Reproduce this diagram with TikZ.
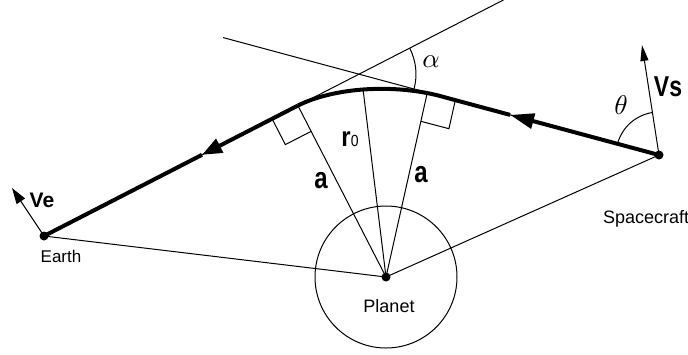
\documentclass[tikz,border=0pt]{standalone}
\usepackage{fontspec}
\setmainfont{Liberation Sans}
\usetikzlibrary{arrows.meta,calc,angles}
\begin{document}
\begin{tikzpicture}[x=1pt,y=-1pt,
  thinline/.style={line width=1pt},
  traj/.style={line width=4pt, line join=round},
  dot/.style={circle, fill=black, inner sep=0pt, minimum size=9pt},
  small/.style={font=\fontsize{17}{17}\selectfont, inner sep=0pt},
]
\useasboundingbox (0,0) rectangle (688,354);
% key points
\coordinate (P) at (386,277);
\coordinate (E) at (44,236);
\coordinate (S) at (659,155);
\coordinate (Q1) at (440,96);
\coordinate (Q2) at (298,105.5);
\coordinate (T) at (363,89);
\coordinate (L1) at ($(S)!1.99!(Q1)$);
\coordinate (L2) at ($(E)!1.83!(Q2)$);
\coordinate (X) at (intersection of S--Q1 and E--Q2);
\coordinate (F1) at ($(E)!(P)!(L2)$);
\coordinate (F2) at (427,94);
\coordinate (VeT) at (12,188);
\coordinate (VsT) at (642,45);
\coordinate (H1) at ($(S)!0.68!(Q1)$);
\coordinate (H2) at ($(Q2)!0.378!(E)$);
% thin construction lines
\draw[thinline] (S) -- (L1);
\draw[thinline] (E) -- (L2);
\draw[thinline] (E) -- (P);
\draw[thinline] (S) -- (P);
\draw[thinline] (P) -- (F1);
\draw[thinline] (P) -- (F2);
\draw[thinline] (P) -- (T);
\draw[thinline] (P) circle[radius=71pt];
% right-angle marks
\coordinate (A1) at ($(F1)!29pt!(P)$);
\coordinate (B1) at ($(F1)!29pt!(E)$);
\draw[thinline] (A1) -- ($(A1)+(B1)-(F1)$) -- (B1);
\coordinate (A2) at ($(F2)!28pt!(P)$);
\coordinate (B2) at ($(F2)!29pt!(S)$);
\draw[thinline] (A2) -- ($(A2)+(B2)-(F2)$) -- (B2);
% angles
\pic[draw, thinline, angle radius=57pt] {angle = S--X--L2};
\pic[draw, thinline, angle radius=43pt] {angle = VsT--S--Q1};
% velocity arrows
\draw[thinline, -{Triangle[length=16pt,width=10pt]}] (E) -- (VeT);
\draw[thinline, -{Triangle[length=16pt,width=8pt]}] (S) -- (VsT);
% trajectory
\draw[traj, -{Triangle[length=24pt,width=15pt]}] (S) -- (H1);
\draw[traj] (H1) -- (Q1) .. controls (395,84) and (335,87) .. (Q2);
\draw[traj, -{Triangle[length=20pt,width=15pt]}] (Q2) -- (H2);
\draw[traj] (H2) -- (E);
% dots
\node[dot] (earth) at (E) {};
\node[dot] (planet) at (P) {};
\node[dot] (craft) at (S) {};
% labels
\node[small, anchor=base] (earthlbl) at (61,262) {Earth};
\node[small, font=\fontsize{18}{18}\selectfont, anchor=base] (planetlbl) at (389,312.5) {Planet};
\node[small, font=\fontsize{18}{18}\selectfont, anchor=base west] (craftlbl) at (603,223) {Spacecraft};
\node[inner sep=0pt, font=\fontsize{21}{21}\selectfont\bfseries] (ve) at (42,200) {Ve};
\node[inner sep=0pt] (vs) at (668,87) {\scalebox{1}[1.25]{\fontsize{23}{23}\selectfont\bfseries Vs}};
\node[inner sep=0pt] (aleft) at (321,181) {\scalebox{1}[1.25]{\fontsize{24}{24}\selectfont\bfseries a}};
\node[inner sep=0pt] (aright) at (421,175) {\scalebox{1}[1.25]{\fontsize{24}{24}\selectfont\bfseries a}};
\node[inner sep=0pt] (r0) at (350,139) {\scalebox{1}[1.15]{\fontsize{24}{24}\selectfont\bfseries r\fontsize{14}{14}\selectfont\mdseries 0}};
\node[inner sep=0pt] (alpha) at (431,62) {\scalebox{2.7}{$\alpha$}};
\node[inner sep=0pt] (theta) at (621,105) {\scalebox{2.7}{$\theta$}};
\end{tikzpicture}
\end{document}
